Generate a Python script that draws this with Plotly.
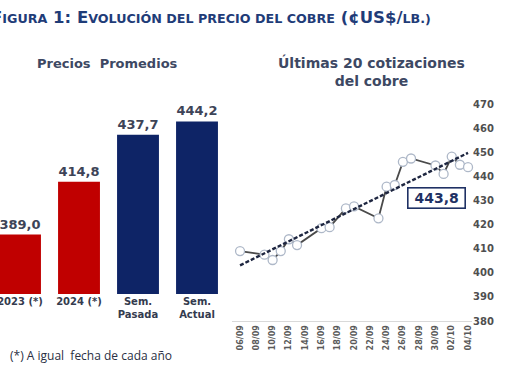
import plotly.graph_objects as go
import numpy as np
import pandas as pd

W, H = 510, 382

# ---- data: left chart (average prices) ----
bar_categories = ["2023 (*)", "2024 (*)", "Sem.<br>Pasada", "Sem.<br>Actual"]
bar_values = [389.0, 414.8, 437.7, 444.2]
bar_colors = ["#C00000", "#C00000", "#0E2466", "#0E2466"]

# ---- data: right chart (last 20 quotes) ----
quote_dates = ["2024-09-06", "2024-09-09", "2024-09-10", "2024-09-11", "2024-09-12",
               "2024-09-13", "2024-09-16", "2024-09-17", "2024-09-19", "2024-09-20",
               "2024-09-23", "2024-09-24", "2024-09-25", "2024-09-26", "2024-09-27",
               "2024-09-30", "2024-10-01", "2024-10-02", "2024-10-03", "2024-10-04"]
quote_values = [409.0, 407.5, 405.3, 409.0, 413.9,
                411.5, 418.5, 418.9, 426.7, 427.5,
                422.6, 435.7, 436.4, 446.0, 447.4,
                444.5, 441.0, 448.2, 444.8, 443.8]
y_ticks = [380, 390, 400, 410, 420, 430, 440, 450, 460, 470]


def px_x(p):
    return p / W


def px_y(p):
    return 1 - p / H


def fmt(v):
    return f"{v:.1f}".replace(".", ",")


fig = go.Figure()

# left bars
fig.add_trace(go.Bar(
    x=list(range(len(bar_categories))), y=bar_values,
    marker=dict(color=bar_colors, line=dict(width=0)),
    width=0.71,
    text=[fmt(v) for v in bar_values], textposition="outside",
    textfont=dict(family="DejaVu Sans", size=13, color="#3D4457", weight="bold"),
    cliponaxis=False,
    xaxis="x", yaxis="y", showlegend=False, hoverinfo="skip",
))

# right line
dts = pd.to_datetime(quote_dates)
fig.add_trace(go.Scatter(
    x=dts, y=quote_values, mode="lines+markers",
    line=dict(color="#4A4A4A", width=1.8),
    marker=dict(symbol="circle", size=9, color="white",
                line=dict(color="#AEB8C8", width=1.3)),
    xaxis="x2", yaxis="y2", showlegend=False, cliponaxis=False,
))

# linear trend computed from the data
days = np.array([(d - dts[0]).days for d in dts], dtype=float)
a, b = np.polyfit(days, np.array(quote_values), 1)
fig.add_trace(go.Scatter(
    x=[dts[0], dts[-1]], y=[b, a * days[-1] + b], mode="lines",
    line=dict(color="#1E2640", width=2.4, dash="4px,2px"),
    xaxis="x2", yaxis="y2", showlegend=False, cliponaxis=False,
))

# left axes
cat_spacing = 59.0
first_center = 20.0
left_right_px = 226.0
fig.update_layout(
    xaxis=dict(
        domain=[0, px_x(left_right_px)],
        range=[-first_center / cat_spacing, (left_right_px - first_center) / cat_spacing],
        tickmode="array", tickvals=list(range(len(bar_categories))), ticktext=bar_categories,
        tickfont=dict(family="DejaVu Sans", size=10, color="#343B4E", weight="bold"),
        showgrid=False, zeroline=False, showline=False, ticks="",
        automargin=False, anchor="y", ticklabeloverflow="allow",
    ),
    yaxis=dict(
        domain=[px_y(294), px_y(68.5)], range=[360, 470],
        visible=False, showgrid=False, zeroline=False, automargin=False,
    ),
    xaxis2=dict(
        domain=[px_x(231.9), px_x(472.1)],
        type="date",
        range=["2024-09-05", "2024-10-04 12:00"],
        tick0="2024-09-06", dtick=2 * 86400000, tickformat="%d/%m",
        tickangle=-90,
        tickfont=dict(family="DejaVu Sans", size=8, color="#5A5A5A", weight="bold"),
        showgrid=False, zeroline=False, showline=True, linecolor="#D9D9D9", linewidth=1,
        ticks="", anchor="y2", automargin=False,
    ),
    yaxis2=dict(
        domain=[px_y(321), px_y(104)], range=[380, 470],
        side="right", anchor="x2",
        tickmode="array", tickvals=y_ticks, ticktext=[str(t) for t in y_ticks],
        tickfont=dict(family="DejaVu Sans", size=10, color="#4F4F4F", weight="bold"),
        showgrid=False, zeroline=False, showline=False, ticks="", automargin=False,
    ),
)

annotations = []
# main title with small caps
big = 16.5
small = 12.7
title = (f"F<span style='font-size:{small}px'>IGURA</span> 1: E"
         f"<span style='font-size:{small}px'>VOLUCIÓN DEL PRECIO DEL COBRE</span> (¢US$/"
         f"<span style='font-size:{small}px'>LB.)</span>")
annotations.append(dict(
    text=title, x=px_x(-11), y=px_y(18), xref="paper", yref="paper",
    xanchor="left", yanchor="middle", showarrow=False,
    font=dict(family="DejaVu Sans", size=big, color="#1F3C78", weight="bold"),
))
annotations.append(dict(
    text="Precios  Promedios", x=px_x(107), y=px_y(64), xref="paper", yref="paper",
    xanchor="center", yanchor="middle", showarrow=False,
    font=dict(family="DejaVu Sans", size=13, color="#3D4863", weight="bold"),
))
annotations.append(dict(
    text="Últimas 20 cotizaciones<br>del cobre", x=px_x(371), y=px_y(72),
    xref="paper", yref="paper", xanchor="center", yanchor="middle", showarrow=False,
    font=dict(family="DejaVu Sans", size=14, color="#3D4863", weight="bold"),
))
annotations.append(dict(
    text=fmt(quote_values[-1]), x=px_x(436), y=px_y(198), xref="paper", yref="paper",
    xanchor="center", yanchor="middle", showarrow=False,
    font=dict(family="DejaVu Sans", size=14, color="#1F3164", weight="bold"),
    bordercolor="#1F3164", borderwidth=1.6, borderpad=2, bgcolor="white",
    width=52, height=15,
))
annotations.append(dict(
    text="(*) A igual  fecha de cada año", x=px_x(8), y=px_y(355),
    xref="paper", yref="paper", xanchor="left", yanchor="middle", showarrow=False,
    font=dict(family="Open Sans", size=12, color="#2A3044"),
))

fig.update_layout(
    width=W, height=H,
    margin=dict(l=0, r=0, t=0, b=0, autoexpand=False),
    paper_bgcolor="white", plot_bgcolor="white",
    annotations=annotations,
    bargap=0.29,
    hovermode=False,
)

fig.write_html("out.html", config={"displayModeBar": False, "staticPlot": True},
               post_script="document.body.style.margin='0';")
